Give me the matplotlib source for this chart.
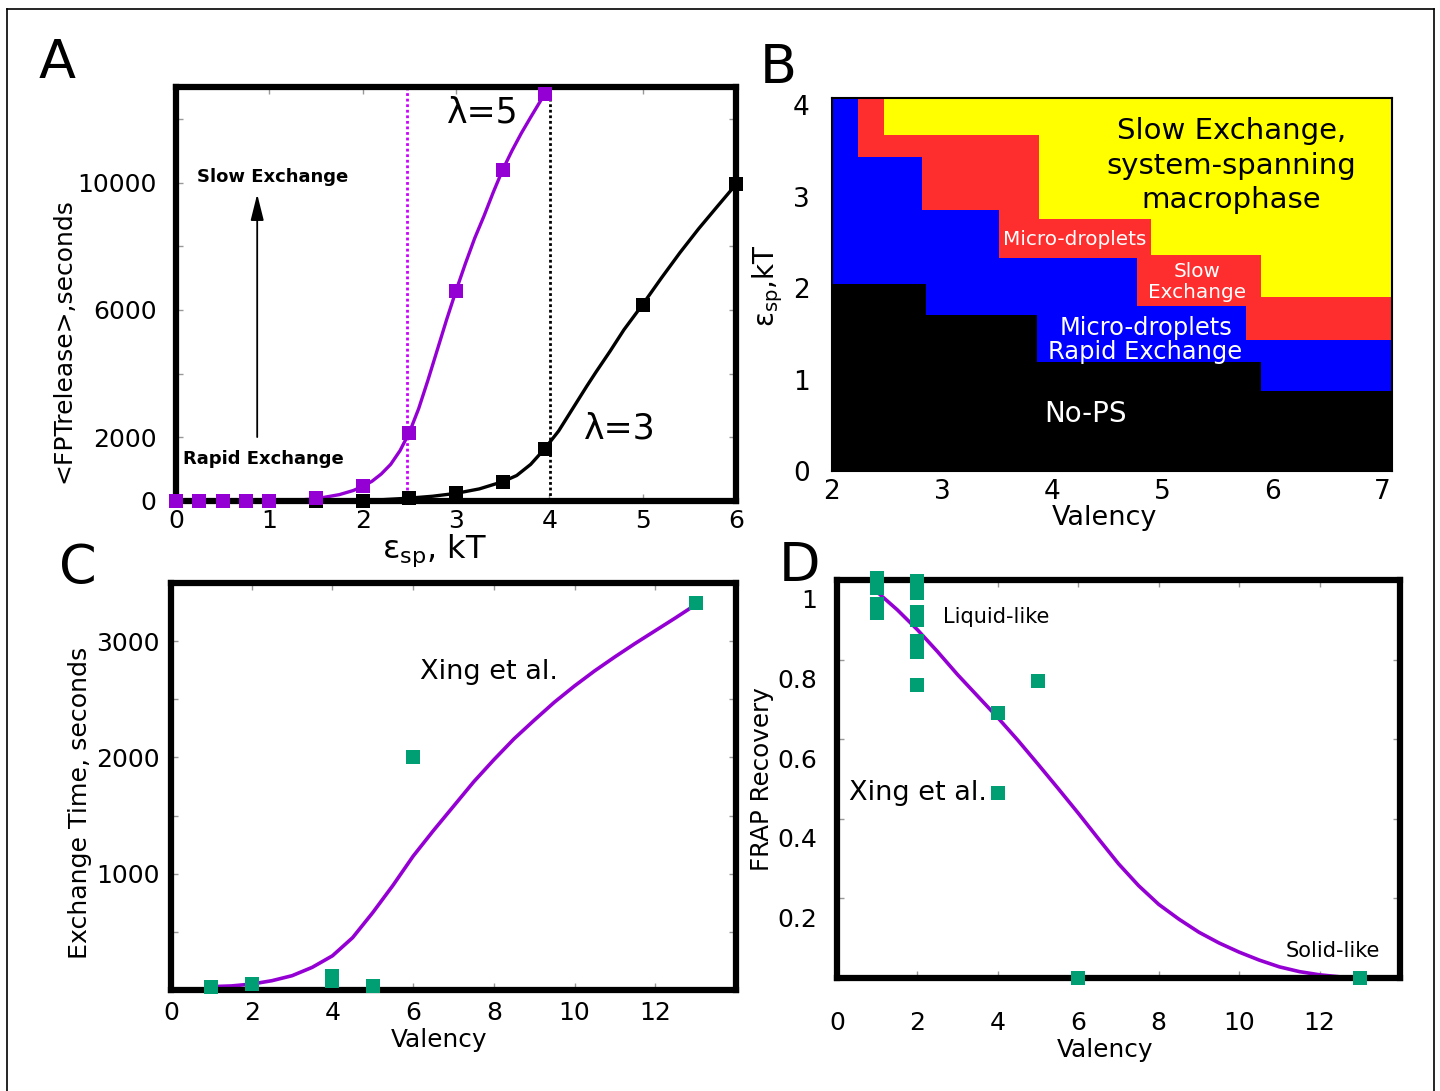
import matplotlib
matplotlib.use('Agg')
import matplotlib.pyplot as plt
from matplotlib.transforms import ScaledTranslation
from matplotlib.lines import Line2D

# A: mean first passage time of release vs specific energy
eps_l5 = [0, 0.25, 0.5, 0.75, 1.0, 1.5, 2.0, 2.5, 3.0, 3.5, 3.95]
fpt_l5 = [0, 0, 0, 0, 0, 90, 460, 2150, 6600, 10400, 12780]
eps_l3 = [1.5, 2.0, 2.5, 3.0, 3.5, 3.95, 5.0, 6.0]
fpt_l3 = [0, 0, 90, 240, 600, 1640, 6170, 9940]
fit_eps_l5 = [1.0, 1.25, 1.5, 1.75, 1.9, 2.0, 2.1, 2.2, 2.3, 2.4, 2.5, 2.6, 2.7, 2.8, 2.9,
              3.0, 3.1, 3.2, 3.3, 3.4, 3.5, 3.6, 3.7, 3.8, 3.95]
fit_fpt_l5 = [0, 15, 70, 200, 330, 460, 620, 850, 1150, 1580, 2150, 2900, 3800, 4750, 5700,
              6600, 7450, 8250, 8950, 9700, 10400, 11000, 11550, 12050, 12780]
fit_eps_l3 = [1.5, 2.0, 2.5, 2.75, 3.0, 3.25, 3.5, 3.65, 3.8, 3.95, 4.1, 4.25, 4.4, 4.5, 4.65,
              4.8, 5.0, 5.2, 5.4, 5.6, 5.8, 6.0]
fit_fpt_l3 = [0, 5, 90, 150, 240, 380, 606, 800, 1150, 1640, 2200, 2900, 3600, 4050, 4700,
              5380, 6171, 7000, 7800, 8550, 9250, 9943]
eps_mark_l5 = 2.48
eps_mark_l3 = 4.01

# B: phase diagram, top boundary of each region as steps over valency
nops_edges = [2.0, 2.85, 3.86, 5.9, 7.09]
nops_top = [2.04, 1.71, 1.19, 0.87]
rapid_edges = [2.0, 2.24, 2.82, 3.52, 4.77, 5.76, 7.09]
rapid_top = [4.08, 3.44, 2.85, 2.33, 1.81, 1.43]
slow_edges = [2.0, 2.47, 3.88, 4.9, 5.9, 7.09]
slow_top = [4.08, 3.67, 2.76, 2.36, 1.9]

# C: exchange time, Xing et al.
c_val = [1, 2, 4, 4, 5, 6, 13]
c_time = [25, 50, 80, 120, 35, 2000, 3330]
c_fit_val = [1.0, 1.5, 2.0, 2.5, 3.0, 3.5, 4.0, 4.5, 5.0, 5.5, 6.0, 6.5, 7.0, 7.5, 8.0,
             8.5, 9.0, 9.5, 10.0, 10.5, 11.0, 11.5, 12.0, 12.5, 12.98]
c_fit_time = [29, 35, 51, 80, 123, 195, 294, 450, 666, 900, 1151, 1370, 1580, 1790, 1980,
              2160, 2320, 2475, 2615, 2745, 2865, 2980, 3090, 3200, 3309]

# D: FRAP recovery, Xing et al.
d_val = [1, 1, 1, 1, 2, 2, 2, 2, 2, 2, 2, 4, 4, 5, 6, 13]
d_frap = [1.005, 0.98, 0.94, 0.917, 0.997, 0.967, 0.92, 0.90, 0.847, 0.819, 0.736, 0.666, 0.465, 0.746, 0.0, 0.0]
d_fit_val = [1.04, 1.5, 2.0, 2.5, 3.0, 3.5, 4.0, 4.5, 5.0, 5.5, 6.0, 6.5, 7.0, 7.5, 8.0,
             8.5, 9.0, 9.5, 10.0, 10.5, 11.0, 11.5, 12.0, 12.5]
d_fit_frap = [0.966, 0.925, 0.875, 0.82, 0.762, 0.708, 0.654, 0.597, 0.537, 0.476, 0.414, 0.35,
              0.287, 0.232, 0.185, 0.148, 0.115, 0.088, 0.065, 0.045, 0.028, 0.016, 0.008, 0.003]

purple = '#9400D3'
green = '#009E73'

fig = plt.figure(figsize=(14.4, 10.91), dpi=100)

# thin outer border (bottom edge is cut off in the original)
for xs, ys in [([7/1440, 7/1440], [0, 1 - 9/1091]),
               ([7/1440, 1434/1440], [1 - 9/1091, 1 - 9/1091]),
               ([1434/1440, 1434/1440], [0, 1 - 9/1091])]:
    fig.add_artist(Line2D(xs, ys, color='black', lw=1.2, transform=fig.transFigure))


def frame(ax, lw):
    for s in ax.spines.values():
        s.set_linewidth(lw)
        s.set_zorder(2.5)


# ---- A ----
axA = fig.add_axes([176/1440, 1 - 501/1091, 560/1440, 414/1091])
axA.axvline(eps_mark_l5, color='#CC00FF', lw=2, ls=(0, (1, 1)))
axA.axvline(eps_mark_l3, color='black', lw=2, ls=(0, (1, 1)))
axA.plot(fit_eps_l5, fit_fpt_l5, color=purple, lw=2.4)
axA.plot(fit_eps_l3, fit_fpt_l3, color='black', lw=2.4)
axA.plot(eps_l3, fpt_l3, 's', color='black', ms=9.5, mew=0, clip_on=False, zorder=3)
axA.plot(eps_l5, fpt_l5, 's', color=purple, ms=9.5, mew=0, clip_on=False, zorder=3)
axA.set_xlim(0, 6)
axA.set_ylim(0, 13000)
axA.set_xticks(range(0, 7))
axA.set_yticks(range(0, 13000, 2000))
axA.set_yticklabels(['0', '2000', '', '6000', '', '10000', ''])
axA.tick_params(direction='in', length=5, width=1, color='#999999', top=True, right=True, labelsize=18)
axA.tick_params(axis='x', pad=6)
axA.tick_params(axis='y', pad=14)
frame(axA, 4.5)
axA.set_xlabel('ε$_{\\mathrm{sp}}$, kT', fontsize=23, va='center')
axA.xaxis.set_label_coords(0.4607, -0.12)
axA.set_ylabel('<FPTrelease>,seconds', fontsize=18, va='center')
axA.yaxis.set_label_coords(-0.2018, 0.3865)
axA.text(3.29, 12210, 'λ=5', fontsize=25, ha='center', va='center')
axA.text(4.75, 2266, 'λ=3', fontsize=25, ha='center', va='center')
axA.text(1.04, 10165, 'Slow Exchange', fontsize=13, fontweight='bold', ha='center', va='center')
axA.text(0.94, 1322, 'Rapid Exchange', fontsize=13, fontweight='bold', ha='center', va='center')
axA.annotate('', xy=(0.87, 9724), xytext=(0.87, 1920),
             arrowprops=dict(arrowstyle='-|>,head_length=1.6,head_width=0.4', color='black', lw=1.3))

# ---- B ----
axB = fig.add_axes([832/1440, 1 - 471/1091, 560/1440, 373/1091])
axB.set_facecolor('#FFFF00')
axB.stairs(slow_top, slow_edges, baseline=0, fill=True, color='#FF2E2E')
axB.stairs(rapid_top, rapid_edges, baseline=0, fill=True, color='#0000FF')
axB.stairs(nops_top, nops_edges, baseline=0, fill=True, color='black')
axB.set_xlim(2, 7.09)
axB.set_ylim(0, 4.08)
axB.set_xticks(range(2, 8))
axB.set_yticks(range(0, 5))
axB.tick_params(length=0, labelsize=19)
axB.tick_params(axis='x', pad=6)
axB.tick_params(axis='y', pad=16)
frame(axB, 1.5)
axB.set_xlabel('Valency', fontsize=19.5, va='center')
axB.xaxis.set_label_coords(0.486, -0.126)
axB.set_ylabel('ε$_{\\mathrm{sp}}$,kT', fontsize=20, va='center')
axB.yaxis.set_label_coords(-0.114, 0.496)
axB.text(5.63, 3.34, 'Slow Exchange,\nsystem-spanning\nmacrophase', fontsize=21,
         ha='center', va='center', linespacing=1.3)
axB.text(4.21, 2.53, 'Micro-droplets', fontsize=14.4, color='white', ha='center', va='center')
axB.text(5.32, 2.07, 'Slow\nExchange', fontsize=14.4, color='white', ha='center', va='center',
         linespacing=1.15)
axB.text(4.85, 1.43, 'Micro-droplets\nRapid Exchange', fontsize=17.4, color='white',
         ha='center', va='center', linespacing=1.0)
axB.text(4.30, 0.62, 'No-PS', fontsize=20, color='white', ha='center', va='center')

# ---- C ----
axC = fig.add_axes([171/1440, 1 - 990/1091, 565/1440, 407/1091])
axC.plot(c_fit_val, c_fit_time, color=purple, lw=2.6)
axC.plot(c_val, c_time, 's', color=green, ms=10, mew=0, clip_on=False, zorder=3)
axC.set_xlim(0, 14)
axC.set_ylim(0, 3500)
axC.set_xticks(range(0, 13, 2))
axC.set_yticks(range(0, 3501, 500))
axC.set_yticklabels(['', '', '1000', '', '2000', '', '3000', ''])
axC.tick_params(direction='in', length=5, width=1, color='#999999', top=True, right=True, labelsize=18)
axC.tick_params(axis='x', pad=8)
axC.tick_params(axis='y', pad=8)
frame(axC, 4.5)
axC.set_xlabel('Valency', fontsize=17.8, va='center')
axC.xaxis.set_label_coords(0.474, -0.123)
axC.set_ylabel('Exchange Time, seconds', fontsize=18.2, va='center')
axC.yaxis.set_label_coords(-0.161, 0.459)
axC.text(7.88, 2735, 'Xing et al.', fontsize=19.5, ha='center', va='center')

# ---- D ----
axD = fig.add_axes([837/1440, 1 - 978/1091, 563/1440, 398/1091])
axD.plot(d_fit_val, d_fit_frap, color=purple, lw=2.6)
axD.plot(d_val, d_frap, 's', color=green, ms=10, mew=0, clip_on=False, zorder=3)
axD.set_xlim(0, 14)
axD.set_ylim(0, 1.0)
axD.set_xticks(range(0, 13, 2))
axD.set_yticks([0.2, 0.4, 0.6, 0.8, 1.0])
axD.set_yticklabels(['0.2', '0.4', '0.6', '0.8', '1'])
axD.tick_params(direction='in', length=5, width=1, color='#999999', top=True, right=True, labelsize=18)
axD.tick_params(axis='x', pad=24)
axD.tick_params(axis='y', pad=14)
shift = ScaledTranslation(0, -0.19, fig.dpi_scale_trans)
for lab in axD.get_yticklabels():
    lab.set_transform(lab.get_transform() + shift)
frame(axD, 4.5)
axD.set_xlabel('Valency', fontsize=17.8, va='center')
axD.xaxis.set_label_coords(0.476, -0.181)
axD.set_ylabel('FRAP Recovery', fontsize=17.7, va='center')
axD.yaxis.set_label_coords(-0.133, 0.5)
axD.text(3.96, 0.907, 'Liquid-like', fontsize=15, ha='center', va='center')
axD.text(12.34, 0.068, 'Solid-like', fontsize=15, ha='center', va='center')
axD.text(2.01, 0.465, 'Xing et al.', fontsize=19.5, ha='center', va='center')

# panel letters
for letter, px, py in [('A', 57, 63), ('B', 778, 68), ('C', 78, 568), ('D', 800, 566)]:
    fig.text(px/1440, 1 - py/1091, letter, fontsize=39, ha='center', va='center')

fig.savefig('out.png', dpi=100)
